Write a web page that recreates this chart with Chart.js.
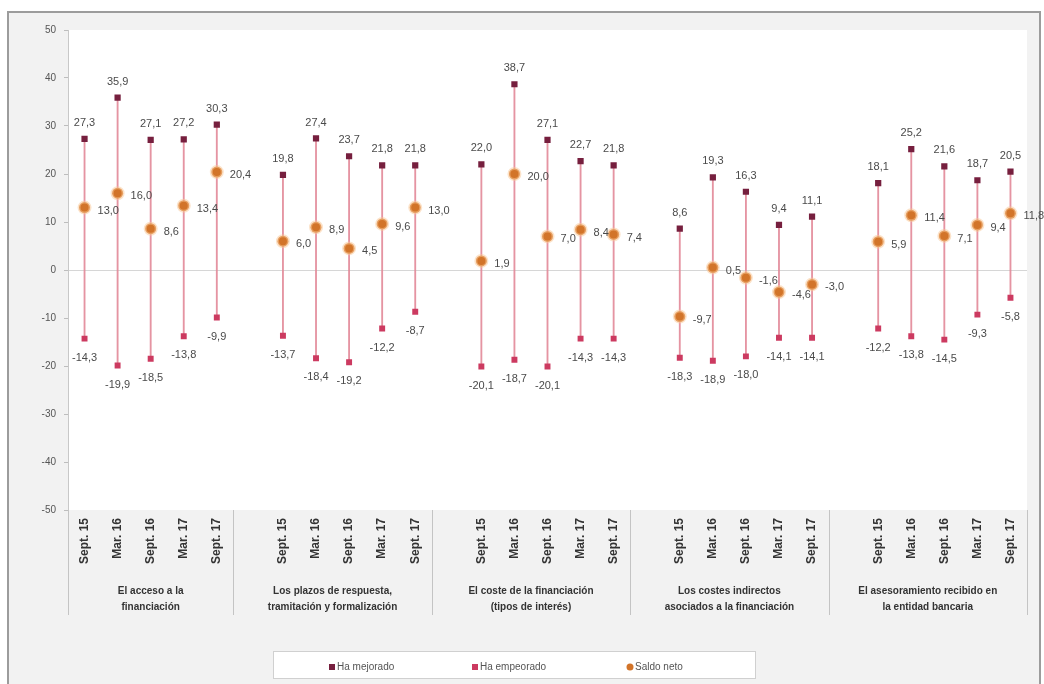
<!DOCTYPE html>
<html>
<head>
<meta charset="utf-8">
<script src="https://cdn.jsdelivr.net/npm/chart.js@4.4.1/dist/chart.umd.min.js"></script>
<style>
  html, body { margin: 0; padding: 0; background: #fff; }
  canvas { display: block; }
</style>
</head>
<body>
<canvas id="chart" width="1044" height="684"></canvas>
<script>
/* ─── data ──────────────────────────────────────────────── */

const PERIODS = ['Sept. 15', 'Mar. 16', 'Sept. 16', 'Mar. 17', 'Sept. 17'];

const GROUPS = [
  ['El acceso a la', 'financiación'],
  ['Los plazos de respuesta,', 'tramitación y formalización'],
  ['El coste de la financiación', '(tipos de interés)'],
  ['Los costes indirectos', 'asociados a la financiación'],
  ['El asesoramiento recibido en', 'la entidad bancaria'],
];

const MEJORADO = [
  [27.3, 35.9, 27.1, 27.2, 30.3],
  [19.8, 27.4, 23.7, 21.8, 21.8],
  [22.0, 38.7, 27.1, 22.7, 21.8],
  [8.6, 19.3, 16.3, 9.4, 11.1],
  [18.1, 25.2, 21.6, 18.7, 20.5],
];

const EMPEORADO = [
  [-14.3, -19.9, -18.5, -13.8, -9.9],
  [-13.7, -18.4, -19.2, -12.2, -8.7],
  [-20.1, -18.7, -20.1, -14.3, -14.3],
  [-18.3, -18.9, -18.0, -14.1, -14.1],
  [-12.2, -13.8, -14.5, -9.3, -5.8],
];

const SALDO = [
  [13.0, 16.0, 8.6, 13.4, 20.4],
  [6.0, 8.9, 4.5, 9.6, 13.0],
  [1.9, 20.0, 7.0, 8.4, 7.4],
  [-9.7, 0.5, -1.6, -4.6, -3.0],
  [5.9, 11.4, 7.1, 9.4, 11.8],
];

const SERIES_NAMES = ['Ha mejorado', 'Ha empeorado', 'Saldo neto'];

/* ─── colours ───────────────────────────────────────────── */

const C_MEJ = '#761f3e';
const C_EMP = '#cc3a60';
const C_SAL = '#d27429';
const C_LINE = 'rgba(226, 136, 152, 0.9)';
const C_TEXT = '#4a4a4a';

/* one empty slot between groups, like the Excel original */
function flatten(groups) {
  const out = [];
  groups.forEach((g, gi) => {
    if (gi > 0) out.push(null);
    g.forEach(v => out.push(v));
  });
  return out;
}

const labels = flatten(GROUPS.map(() => PERIODS)).map(l => l === null ? '' : l);
const mej = flatten(MEJORADO);
const emp = flatten(EMPEORADO);
const sal = flatten(SALDO);
const hiLo = mej.map((v, i) => v === null ? null : [emp[i], v]);

const fmt = v => v.toFixed(1).replace('.', ',');

/* ─── plugins ───────────────────────────────────────────── */

const frame = {
  id: 'frame',
  beforeDraw(chart) {
    const { ctx, chartArea: a } = chart;
    ctx.save();
    ctx.fillStyle = '#ffffff';
    ctx.fillRect(0, 0, chart.width, chart.height);
    ctx.fillStyle = '#f2f2f2';
    ctx.fillRect(8, 12, 1032, 680);
    ctx.strokeStyle = '#9c9c9c';
    ctx.lineWidth = 2;
    ctx.strokeRect(8, 12, 1032, 680);
    ctx.fillStyle = '#ffffff';
    ctx.fillRect(a.left, a.top, a.right - a.left, a.bottom - a.top);
    ctx.restore();
  },
};

const pointLabels = {
  id: 'pointLabels',
  afterDatasetsDraw(chart) {
    const { ctx } = chart;
    ctx.save();
    ctx.font = '11px "Liberation Sans", Arial, sans-serif';
    ctx.fillStyle = C_TEXT;
    [1, 2, 3].forEach(di => {
      const meta = chart.getDatasetMeta(di);
      const data = chart.data.datasets[di].data;
      meta.data.forEach((pt, i) => {
        const v = data[i];
        if (v === null || v === undefined) return;
        if (di === 1) {
          ctx.textAlign = 'center'; ctx.textBaseline = 'middle';
          ctx.fillText(fmt(v), pt.x, pt.y - 16);
        } else if (di === 2) {
          ctx.textAlign = 'center'; ctx.textBaseline = 'middle';
          ctx.fillText(fmt(v), pt.x, pt.y + 19);
        } else {
          ctx.textAlign = 'left'; ctx.textBaseline = 'middle';
          ctx.fillText(fmt(v), pt.x + 13, pt.y + 3);
        }
      });
    });
    ctx.restore();
  },
};

const groupAxis = {
  id: 'groupAxis',
  afterDraw(chart) {
    const { ctx, chartArea: a } = chart;
    const x = chart.scales.x;
    const w = (a.right - a.left) / labels.length;
    ctx.save();
    ctx.strokeStyle = '#c4c4c4';
    ctx.lineWidth = 1;
    const sepTop = a.bottom, sepBot = a.bottom + 105;
    const line = px => {
      ctx.beginPath();
      ctx.moveTo(Math.round(px) + 0.5, sepTop);
      ctx.lineTo(Math.round(px) + 0.5, sepBot);
      ctx.stroke();
    };
    line(a.left);
    ctx.font = 'bold 10px "Liberation Sans", Arial, sans-serif';
    ctx.fillStyle = '#333333';
    ctx.textAlign = 'center';
    ctx.textBaseline = 'middle';
    GROUPS.forEach((g, gi) => {
      const first = gi === 0 ? 0 : gi * 6 - 1;
      const last = gi * 6 + 4;
      const l = x.getPixelForValue(first) - w / 2;
      const r = x.getPixelForValue(last) + w / 2;
      line(r);
      const cx = (l + r) / 2;
      ctx.fillText(g[0], cx, a.bottom + 81);
      ctx.fillText(g[1], cx, a.bottom + 97);
    });
    ctx.restore();
  },
};

const legendBox = {
  id: 'legendBox',
  afterDraw(chart) {
    const { ctx } = chart;
    ctx.save();
    ctx.fillStyle = '#ffffff';
    ctx.fillRect(273, 651, 482, 27);
    ctx.strokeStyle = '#d0d0d0';
    ctx.lineWidth = 1;
    ctx.strokeRect(273.5, 651.5, 482, 27);
    const items = [
      { x: 332, color: C_MEJ, shape: 'rect' },
      { x: 475, color: C_EMP, shape: 'rect' },
      { x: 630, color: C_SAL, shape: 'circle' },
    ];
    const y = 667;
    ctx.font = '10px "Liberation Sans", Arial, sans-serif';
    ctx.textAlign = 'left';
    ctx.textBaseline = 'middle';
    items.forEach((it, i) => {
      ctx.fillStyle = it.color;
      if (it.shape === 'rect') {
        ctx.fillRect(it.x - 3, y - 3, 6, 6);
      } else {
        ctx.beginPath();
        ctx.arc(it.x, y, 3.5, 0, Math.PI * 2);
        ctx.fill();
      }
      ctx.fillStyle = '#555555';
      ctx.fillText(SERIES_NAMES[i], it.x + 5, y);
    });
    ctx.restore();
  },
};

/* ─── chart ─────────────────────────────────────────────── */

new Chart(document.getElementById('chart'), {
  type: 'bar',
  data: {
    labels,
    datasets: [
      {
        type: 'bar',
        label: 'hi-lo',
        data: hiLo,
        backgroundColor: C_LINE,
        barThickness: 1.2,
        order: 10,
      },
      {
        type: 'line',
        label: SERIES_NAMES[0],
        data: mej,
        showLine: false,
        pointStyle: 'rect',
        pointRadius: 4.4,
        pointBackgroundColor: C_MEJ,
        pointBorderColor: C_MEJ,
        pointBorderWidth: 0,
        order: 2,
      },
      {
        type: 'line',
        label: SERIES_NAMES[1],
        data: emp,
        showLine: false,
        pointStyle: 'rect',
        pointRadius: 4.2,
        pointBackgroundColor: C_EMP,
        pointBorderColor: C_EMP,
        pointBorderWidth: 0,
        order: 3,
      },
      {
        type: 'line',
        label: SERIES_NAMES[2],
        data: sal,
        showLine: false,
        pointStyle: 'circle',
        pointRadius: 5.5,
        pointBackgroundColor: C_SAL,
        pointBorderColor: 'rgba(250, 200, 150, 0.5)',
        pointBorderWidth: 3,
        order: 1,
      },
    ],
  },
  options: {
    responsive: false,
    devicePixelRatio: 1,
    animation: false,
    layout: { padding: { top: 30, left: 8, right: 17, bottom: 69 } },
    plugins: {
      legend: { display: false },
      tooltip: { enabled: false },
    },
    scales: {
      x: {
        grid: { display: false, drawTicks: false },
        border: { display: false },
        afterFit: s => { s.height = 105; },
        ticks: {
          autoSkip: false,
          minRotation: 90,
          maxRotation: 90,
          padding: 8,
          color: '#333333',
          font: { family: '"Liberation Sans", Arial, sans-serif', size: 12, weight: 'bold' },
        },
      },
      y: {
        min: -50,
        max: 50,
        afterFit: s => { s.width = 60; },
        border: { display: true, color: '#c8c8c8' },
        grid: {
          color: ctx => ctx.tick && ctx.tick.value === 0 ? '#d6d6d6' : 'rgba(0,0,0,0)',
          tickColor: '#bdbdbd',
          tickLength: 4,
        },
        ticks: {
          stepSize: 10,
          padding: 8,
          color: '#555555',
          font: { family: '"Liberation Sans", Arial, sans-serif', size: 10 },
        },
      },
    },
  },
  plugins: [frame, pointLabels, groupAxis, legendBox],
});
</script>
</body>
</html>
